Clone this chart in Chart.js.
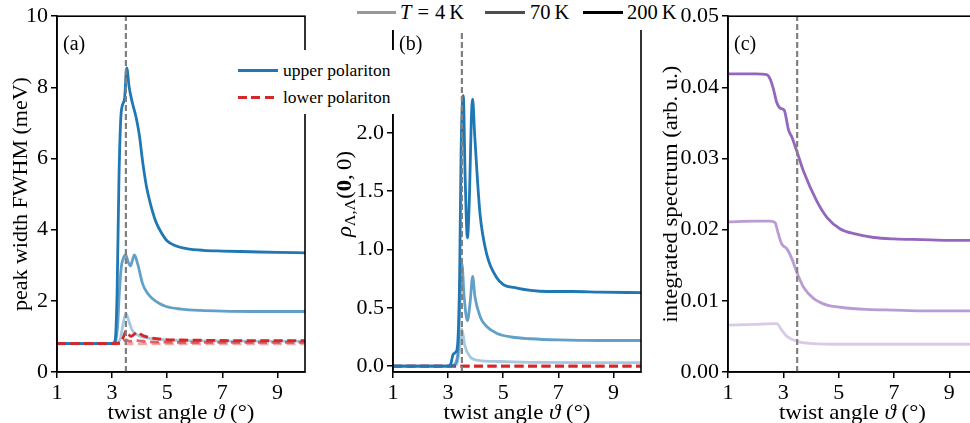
<!DOCTYPE html>
<html>
<head>
<meta charset="utf-8">
<script src="https://cdn.jsdelivr.net/npm/chart.js@4.4.1/dist/chart.umd.min.js"></script>
<style>
  html, body { margin: 0; padding: 0; background: #fff; }
  body { width: 970px; height: 423px; overflow: hidden; position: relative; font-family: 'Liberation Serif', serif; }
  canvas { position: absolute; top: 0; }
  #cA { left: 0; }
  #cB { left: 330px; }
  #cC { left: 660px; }
  .box { position: absolute; background: #fff; }
  .ln { position: absolute; height: 2.6px; }
  .lbl { position: absolute; white-space: nowrap; color: #000; }
  .eq { margin: 0 6px; }
</style>
</head>
<body>
<canvas id="cA" width="320" height="423"></canvas>
<canvas id="cB" width="325" height="423"></canvas>
<canvas id="cC" width="330" height="423"></canvas>

<div class="box" style="left:350px;top:0;width:328px;height:30px">
  <div class="ln" style="left:7px;top:11px;width:39px;background:#999"></div>
  <div class="lbl" style="left:50px;top:0;font-size:20.5px;line-height:24px"><i>T</i><span class="eq">=</span>4&#8201;K</div>
  <div class="ln" style="left:135px;top:11px;width:40px;background:#4d4d4d"></div>
  <div class="lbl" style="left:180px;top:0;font-size:20.5px;line-height:24px">70&#8201;K</div>
  <div class="ln" style="left:233px;top:11px;width:40px;background:#000"></div>
  <div class="lbl" style="left:277px;top:0;font-size:20.5px;line-height:24px">200&#8201;K</div>
</div>

<div class="box" style="left:231px;top:50px;width:166px;height:64px">
  <div class="ln" style="left:7px;top:19px;width:40px;background:#1f77b4"></div>
  <div class="lbl" style="left:52px;top:9px;font-size:17.5px;line-height:22px">upper polariton</div>
  <div class="ln" style="left:7px;top:46px;width:40px;background:repeating-linear-gradient(90deg,#d62728 0 9px,transparent 9px 13.5px)"></div>
  <div class="lbl" style="left:52px;top:36px;font-size:17.5px;line-height:22px">lower polariton</div>
</div>

<script>
// shared
const xTicks = [1, 3, 5, 7, 9];
const markerAngle = 3.5;

// (a) peak width FWHM (meV)
const aUp200X = [1, 2, 3, 3.1, 3.18, 3.25, 3.33, 3.45, 3.53, 3.62, 3.73, 3.87, 3.99, 4.11, 4.25, 4.4, 4.6, 4.8, 5.0, 5.3, 5.7, 6.3, 7, 8, 9, 10];
const aUp200Y = [0.8, 0.8, 0.8, 0.85, 2.2, 5.5, 7.3, 7.67, 8.55, 8.0, 7.58, 7.16, 6.65, 5.9, 5.2, 4.7, 4.2, 3.9, 3.68, 3.55, 3.47, 3.42, 3.4, 3.38, 3.36, 3.35];
const aUp70X = [1, 2, 3, 3.12, 3.2, 3.26, 3.33, 3.41, 3.49, 3.58, 3.67, 3.74, 3.81, 3.93, 4.11, 4.3, 4.48, 4.7, 4.96, 5.5, 6.2, 7, 8, 9, 10];
const aUp70Y = [0.8, 0.8, 0.8, 0.85, 1.3, 2.2, 2.93, 3.2, 3.3, 3.1, 2.98, 3.15, 3.29, 3.03, 2.47, 2.2, 2.05, 1.93, 1.84, 1.77, 1.73, 1.71, 1.7, 1.7, 1.7];
const aUp4X = [1, 2, 3, 3.2, 3.3, 3.4, 3.5, 3.6, 3.73, 3.9, 4.11, 4.5, 5, 6, 7, 8, 9, 10];
const aUp4Y = [0.8, 0.8, 0.8, 0.82, 0.95, 1.35, 1.65, 1.45, 1.17, 1.05, 0.98, 0.93, 0.9, 0.88, 0.87, 0.87, 0.87, 0.87];
const aLo200X = [1, 2, 3, 3.3, 3.42, 3.5, 3.58, 3.68, 3.8, 3.9, 4.1, 4.4, 4.8, 5.5, 6.5, 8, 10];
const aLo200Y = [0.8, 0.8, 0.8, 0.82, 1.0, 1.15, 1.08, 1.0, 1.06, 1.12, 1.03, 0.96, 0.92, 0.9, 0.89, 0.88, 0.88];
const aLo70X = [1, 2, 3, 3.35, 3.5, 3.65, 3.9, 4.3, 5, 6, 8, 10];
const aLo70Y = [0.8, 0.8, 0.8, 0.81, 0.9, 0.86, 0.88, 0.85, 0.84, 0.83, 0.83, 0.83];
const aLo4X = [1, 5, 10];
const aLo4Y = [0.79, 0.79, 0.79];
const aYTicks = [0, 2, 4, 6, 8, 10];

// (b) rho_{Lambda,Lambda}(0,0)
const bUp200X = [1, 2, 3, 3.1, 3.18, 3.28, 3.35, 3.42, 3.47, 3.55, 3.62, 3.7, 3.78, 3.84, 3.89, 3.96, 4.04, 4.16, 4.4, 4.76, 5.0, 5.5, 6.0, 6.6, 7.5, 8.5, 10];
const bUp200Y = [0, 0, 0, 0.02, 0.1, 0.12, 0.2, 0.8, 1.83, 2.32, 1.6, 1.1, 1.5, 2.1, 2.29, 2.0, 1.69, 1.3, 0.96, 0.76, 0.7, 0.67, 0.65, 0.64, 0.64, 0.635, 0.63];
const bUp70X = [1, 2, 3, 3.2, 3.35, 3.42, 3.5, 3.58, 3.7, 3.8, 3.89, 3.97, 4.17, 4.4, 4.78, 5.3, 6, 7, 8.5, 10];
const bUp70Y = [0, 0, 0, 0.01, 0.1, 0.5, 0.88, 0.6, 0.39, 0.55, 0.77, 0.6, 0.42, 0.34, 0.28, 0.25, 0.235, 0.225, 0.22, 0.22];
const bUp4X = [1, 2, 3, 3.3, 3.42, 3.5, 3.6, 3.8, 4.1, 4.8, 6, 8, 10];
const bUp4Y = [0, 0, 0, 0.01, 0.15, 0.32, 0.18, 0.08, 0.05, 0.04, 0.033, 0.03, 0.03];
const bLoX = [1, 5, 10];
const bLoY = [0, 0, 0];
const bYTicks = [0, 0.5, 1, 1.5, 2, 2.5, 3];

// (c) integrated spectrum (arb. u.)
const cHighX = [1, 2, 2.4, 2.52, 2.64, 2.76, 2.88, 3.03, 3.19, 3.31, 3.49, 3.73, 4.21, 4.58, 5.06, 5.6, 6.27, 7, 8, 9, 10];
const cHighY = [0.0419, 0.0419, 0.0418, 0.0412, 0.0398, 0.0379, 0.0371, 0.0368, 0.034, 0.033, 0.031, 0.0282, 0.024, 0.0217, 0.0201, 0.0194, 0.0189, 0.0187, 0.0186, 0.0185, 0.0185];
const cMidX = [1, 2, 2.52, 2.7, 2.82, 2.94, 3.13, 3.31, 3.49, 3.73, 4.1, 4.58, 5.06, 6, 7, 8, 9, 10];
const cMidY = [0.0211, 0.0212, 0.0212, 0.021, 0.0194, 0.018, 0.0173, 0.0159, 0.014, 0.0119, 0.0103, 0.0094, 0.0091, 0.0088, 0.0087, 0.0086, 0.0086, 0.0086];
const cLowX = [1, 2, 2.76, 2.94, 3.13, 3.49, 4.1, 5, 7, 10];
const cLowY = [0.0066, 0.0067, 0.0068, 0.0059, 0.005, 0.0043, 0.004, 0.0039, 0.0039, 0.0039];
const cYTicks = [0, 0.01, 0.02, 0.03, 0.04, 0.05];

const FONT = "'Liberation Serif', serif";
Chart.defaults.font.family = FONT;
Chart.defaults.font.size = 22;
Chart.defaults.color = '#000';

function pts(xs, ys) { return xs.map((x, i) => ({ x: x, y: ys[i] })); }

function line(xs, ys, color, dashed) {
  return {
    data: pts(xs, ys),
    borderColor: color,
    borderWidth: 2.8,
    borderDash: dashed ? [9, 4.5] : [],
    pointRadius: 0,
    fill: false,
    cubicInterpolationMode: 'monotone'
  };
}

function marker(yMin, yMax) {
  return {
    data: [{ x: markerAngle, y: yMin }, { x: markerAngle, y: yMax }],
    borderColor: '#808080',
    borderWidth: 2.2,
    borderDash: [6, 3],
    pointRadius: 0,
    tension: 0
  };
}

// draws mixed-font text centred on (cx, cy), squeezed/stretched to the target length
function drawRich(ctx, parts, cx, cy, rotate, target) {
  ctx.save();
  ctx.translate(cx, cy);
  if (rotate) ctx.rotate(-Math.PI / 2);
  let w = 0;
  parts.forEach(p => { ctx.font = p.font; p.w = ctx.measureText(p.text).width; w += p.w; });
  if (target) ctx.scale(target / w, 1);
  let x = -w / 2;
  ctx.fillStyle = '#000';
  ctx.textAlign = 'left';
  ctx.textBaseline = 'alphabetic';
  parts.forEach(p => { ctx.font = p.font; ctx.fillText(p.text, x, 7 + (p.dy || 0)); x += p.w; });
  ctx.restore();
}

const N = '22px ' + FONT;
const I = 'italic 22px ' + FONT;
const xTitle = [{ text: 'twist angle ', font: N }, { text: 'ϑ', font: I }, { text: ' (°)', font: N }];

const framePlugin = {
  id: 'frame',
  afterDraw(chart, args, opts) {
    const a = chart.chartArea, ctx = chart.ctx;
    ctx.save();
    ctx.strokeStyle = '#000';
    ctx.lineWidth = 1.6;
    ctx.strokeRect(a.left, a.top, a.right - a.left, a.bottom - a.top);
    ctx.font = '20px ' + FONT;
    ctx.fillStyle = '#000';
    ctx.textBaseline = 'alphabetic';
    ctx.fillText(opts.tag, a.left + 6, 50);
    ctx.restore();
    drawRich(ctx, xTitle, (a.left + a.right) / 2, 412, false, 147);
    drawRich(ctx, opts.yTitle, opts.yTitleX, (a.top + a.bottom) / 2, true, opts.yTitleLen);
  }
};

function panel(id, datasets, yMin, yMax, yTicks, digits, yAxisW, padRight, tag, yTitle, yTitleX, yTitleLen) {
  return new Chart(document.getElementById(id), {
    type: 'line',
    data: { datasets: datasets.concat([marker(yMin, yMax)]).reverse() },
    options: {
      responsive: false,
      animation: false,
      layout: { padding: { top: 13, right: padRight, left: 0, bottom: 0 } },
      plugins: {
        legend: { display: false },
        tooltip: { enabled: false },
        frame: { tag: tag, yTitle: yTitle, yTitleX: yTitleX, yTitleLen: yTitleLen }
      },
      scales: {
        x: {
          type: 'linear', min: 1, max: 10,
          afterBuildTicks: s => { s.ticks = xTicks.map(v => ({ value: v })); },
          afterFit: s => { s.height = 51; },
          ticks: { padding: 2, maxRotation: 0, callback: v => String(v) },
          grid: { drawOnChartArea: false, drawTicks: true, tickLength: 6, color: '#000', lineWidth: 1.5 },
          border: { display: true, color: '#000', width: 1.6 }
        },
        y: {
          type: 'linear', min: yMin, max: yMax,
          afterBuildTicks: s => { s.ticks = yTicks.map(v => ({ value: v })); },
          afterFit: s => { s.width = yAxisW; },
          ticks: { padding: 3, callback: v => v.toFixed(digits) },
          grid: { drawOnChartArea: false, drawTicks: true, tickLength: 6, color: '#000', lineWidth: 1.5 },
          border: { display: true, color: '#000', width: 1.6 }
        }
      }
    },
    plugins: [framePlugin]
  });
}

const blue = ['rgba(31,119,180,0.4)', 'rgba(31,119,180,0.7)', 'rgba(31,119,180,1)'];
const red = ['rgba(214,39,40,0.4)', 'rgba(214,39,40,0.7)', 'rgba(214,39,40,1)'];
const purple = ['rgba(148,103,189,0.35)', 'rgba(148,103,189,0.65)', 'rgba(148,103,189,1)'];

// datasets listed bottom to top
panel('cA', [
  line(aUp4X, aUp4Y, blue[0]),
  line(aUp70X, aUp70Y, blue[1]),
  line(aUp200X, aUp200Y, blue[2]),
  line(aLo4X, aLo4Y, red[0], true),
  line(aLo70X, aLo70Y, red[1], true),
  line(aLo200X, aLo200Y, red[2], true)
], 0, 10, aYTicks, 0, 57, 15, '(a)',
  [{ text: 'peak width FWHM (meV)', font: N }], 20, 234);

panel('cB', [
  line(bLoX, bLoY, red[0], true),
  line(bLoX, bLoY, red[1], true),
  line(bLoX, bLoY, red[2], true),
  line(bUp4X, bUp4Y, blue[0]),
  line(bUp70X, bUp70Y, blue[1]),
  line(bUp200X, bUp200Y, blue[2])
], -0.05, 3, bYTicks, 1, 63, 14, '(b)',
  [{ text: 'ρ', font: 'italic 21px ' + FONT }, { text: 'Λ,Λ', font: '15px ' + FONT, dy: 4 },
   { text: '(', font: '21px ' + FONT }, { text: '0', font: 'bold 21px ' + FONT }, { text: ',\u20090)', font: '21px ' + FONT }], 14, 86);

panel('cC', [
  line(cLowX, cLowY, purple[0]),
  line(cMidX, cMidY, purple[1]),
  line(cHighX, cHighY, purple[2])
], 0, 0.05, cYTicks, 2, 68, 13, '(c)',
  [{ text: 'integrated spectrum (arb. u.)', font: N }], 10, 257);
</script>
</body>
</html>
